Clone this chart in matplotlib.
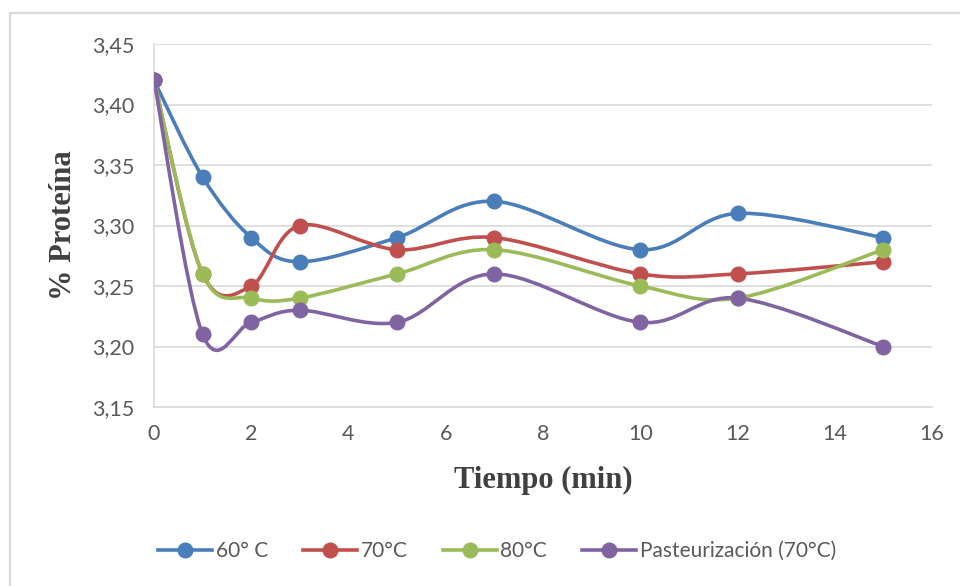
import matplotlib
matplotlib.use('Agg')
import matplotlib.pyplot as plt
from matplotlib.path import Path
from matplotlib.patches import PathPatch
from matplotlib.lines import Line2D
from matplotlib.ticker import FuncFormatter

tiempo = [0, 1, 2, 3, 5, 7, 10, 12, 15]
t60 = [3.42, 3.34, 3.29, 3.27, 3.29, 3.32, 3.28, 3.31, 3.29]
t70 = [3.42, 3.26, 3.25, 3.30, 3.28, 3.29, 3.26, 3.26, 3.27]
t80 = [3.42, 3.26, 3.24, 3.24, 3.26, 3.28, 3.25, 3.24, 3.28]
pasteur = [3.42, 3.21, 3.22, 3.23, 3.22, 3.26, 3.22, 3.24, 3.20]

series = [
    ("60° C", t60, "#4a7ebb"),
    ("70°C", t70, "#c0504d"),
    ("80°C", t80, "#9bbb59"),
    ("Pasteurización (70°C)", pasteur, "#8064a2"),
]

gray = "#595959"
sans = ["Lato", "DejaVu Sans"]


def smooth_path(xs, ys):
    # catmull-rom style bezier through every point
    pts = list(zip(xs, ys))
    n = len(pts)
    verts = [pts[0]]
    codes = [Path.MOVETO]
    for i in range(n - 1):
        p0 = pts[i - 1] if i > 0 else pts[i]
        p1 = pts[i]
        p2 = pts[i + 1]
        p3 = pts[i + 2] if i + 2 < n else pts[i + 1]
        c1 = (p1[0] + (p2[0] - p0[0]) / 6, p1[1] + (p2[1] - p0[1]) / 6)
        c2 = (p2[0] - (p3[0] - p1[0]) / 6, p2[1] - (p3[1] - p1[1]) / 6)
        verts += [c1, c2, p2]
        codes += [Path.CURVE4] * 3
    return Path(verts, codes)


fig = plt.figure(figsize=(9.6, 5.86), dpi=100)

# chart area border
fig.patches.append(plt.Rectangle((10 / 960, -0.1), 1.2, 1 - 13 / 586 + 0.1,
                                 transform=fig.transFigure, fill=False,
                                 edgecolor="#d9d9d9", linewidth=1.6))

ax = fig.add_axes([154 / 960, 1 - 407 / 586, (932 - 154) / 960, (407 - 44) / 586])

handles = []
for name, vals, col in series:
    ax.add_patch(PathPatch(smooth_path(tiempo, vals), facecolor="none",
                           edgecolor=col, linewidth=2.6, zorder=3,
                           capstyle="round"))
    ax.plot(tiempo, vals, "o", color=col, markersize=10.5, zorder=4)
    handles.append(Line2D([], [], color=col, marker="o", markersize=10.5,
                          linewidth=2.6, label=name))

ax.set_xlim(0, 16)
ax.set_ylim(3.15, 3.45)
ax.set_xticks(range(0, 17, 2))
ax.set_yticks([3.15, 3.20, 3.25, 3.30, 3.35, 3.40, 3.45])
ax.yaxis.set_major_formatter(FuncFormatter(lambda v, p: f"{v:.2f}".replace(".", ",")))
ax.grid(axis="y", color="#d9d9d9", linewidth=1.2)
ax.set_axisbelow(True)
for s in ["top", "right"]:
    ax.spines[s].set_visible(False)
ax.spines["left"].set_color("#d9d9d9")
ax.spines["bottom"].set_color("#d9d9d9")
ax.spines["left"].set_linewidth(1.2)
ax.spines["bottom"].set_linewidth(1.2)
ax.tick_params(length=0, labelsize=15.5, labelcolor=gray)
ax.tick_params(axis="y", pad=14)
ax.tick_params(axis="x", pad=12)
for lab in ax.get_xticklabels() + ax.get_yticklabels():
    lab.set_family(sans)

ax.set_xlabel("Tiempo (min)", family="Liberation Serif", fontweight="bold",
              fontsize=22, color="#404040", labelpad=16)
ax.set_ylabel("% Proteína", family="Liberation Serif", fontweight="bold",
              fontsize=22, color="#404040", labelpad=10)

leg = fig.legend(handles=handles, loc="center", bbox_to_anchor=(497 / 960, 1 - 551 / 586),
                 ncol=4, frameon=False, handlelength=2.6, handletextpad=0.15,
                 columnspacing=1.7, prop={"family": sans, "size": 15})
for t in leg.get_texts():
    t.set_color(gray)

fig.savefig("out.png", dpi=100)
